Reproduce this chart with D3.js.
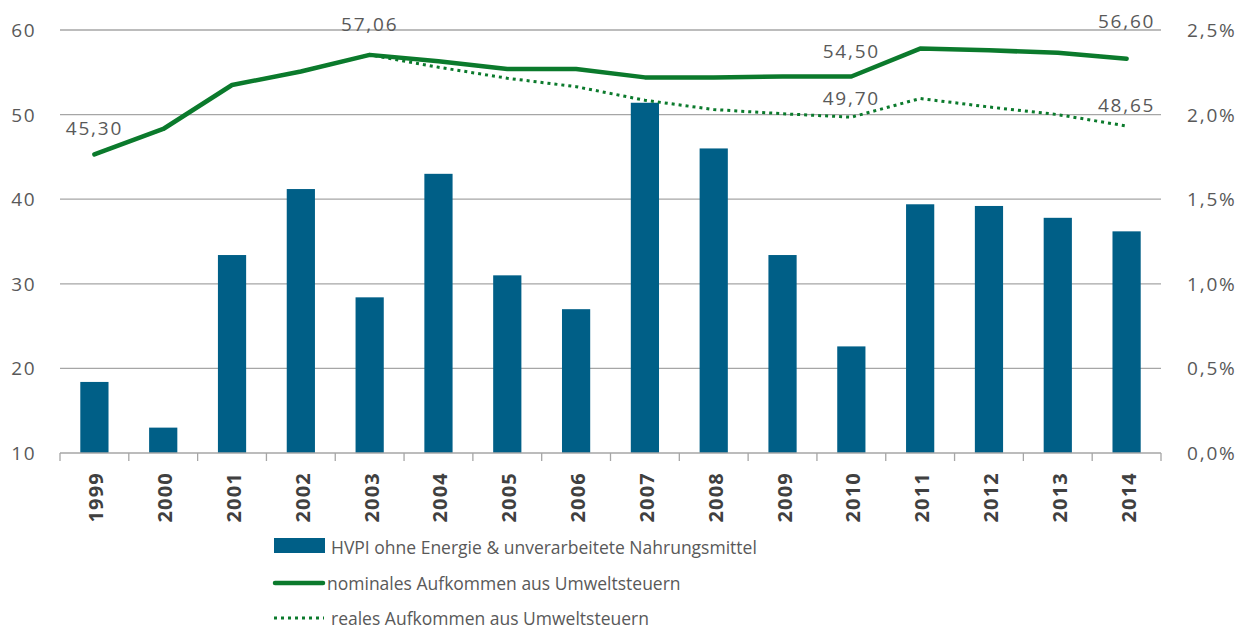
<!DOCTYPE html>
<html>
<head>
<meta charset="utf-8">
<script src="https://cdn.jsdelivr.net/npm/d3@7"></script>
<style>
  body { margin: 0; background: #fff; }
  svg text { font-family: "Open Sans", "DejaVu Sans", sans-serif; }
</style>
</head>
<body>
<svg id="chart" width="1247" height="630"></svg>
<script>
// data
var years = ["1999","2000","2001","2002","2003","2004","2005","2006","2007","2008","2009","2010","2011","2012","2013","2014"];
var hvpi = [0.42, 0.15, 1.17, 1.56, 0.92, 1.65, 1.05, 0.85, 2.07, 1.80, 1.17, 0.63, 1.47, 1.46, 1.39, 1.31];
var nominal = [45.30, 48.3, 53.5, 55.1, 57.06, 56.3, 55.4, 55.4, 54.4, 54.4, 54.5, 54.50, 57.8, 57.6, 57.3, 56.60];
var real = [45.30, 48.3, 53.5, 55.1, 57.06, 55.6, 54.3, 53.3, 51.7, 50.6, 50.1, 49.70, 51.9, 50.9, 50.0, 48.65];
var leftTicks = [10, 20, 30, 40, 50, 60];
var rightTicks = [0, 0.5, 1.0, 1.5, 2.0, 2.5];
var legendLabels = ["HVPI ohne Energie & unverarbeitete Nahrungsmittel", "nominales Aufkommen aus Umweltsteuern", "reales Aufkommen aus Umweltsteuern"];
// value labels: [year, value, series]
var valueLabels = [["1999", 45.30, "n"], ["2003", 57.06, "n"], ["2010", 54.50, "n"], ["2014", 56.60, "n"], ["2010", 49.70, "r"], ["2014", 48.65, "r"]];

var svg = d3.select("svg#chart");
var plotLeft = 60, plotRight = 1161, plotTop = 30, plotBottom = 453;

var x = d3.scaleBand().domain(years).range([plotLeft, plotRight]).paddingInner(0.59).paddingOuter(0.295);
var xTicks = d3.scaleBand().domain(years).range([plotLeft, plotRight]);
var yL = d3.scaleLinear().domain([10, 60]).range([plotBottom, plotTop]);
var yR = d3.scaleLinear().domain([0, 2.5]).range([plotBottom, plotTop]);

var blue = "#005f87", green = "#0b7a2c", grid = "#a6a6a6", txt = "#595959";
var fmt = function(v) { return v.toFixed(2).replace(".", ","); };

// gridlines
svg.append("g").selectAll("line").data(leftTicks.slice(1)).enter().append("line")
  .attr("x1", plotLeft).attr("x2", plotRight)
  .attr("y1", function(d) { return yL(d); }).attr("y2", function(d) { return yL(d); })
  .attr("stroke", grid).attr("stroke-width", 1.3);

// bars
svg.append("g").selectAll("rect").data(years).enter().append("rect")
  .attr("x", function(d) { return x(d); })
  .attr("width", x.bandwidth())
  .attr("y", function(d, i) { return yR(hvpi[i]); })
  .attr("height", function(d, i) { return plotBottom - yR(hvpi[i]); })
  .attr("fill", blue);

// x axis
var xAxis = svg.append("g").attr("transform", "translate(0," + plotBottom + ")");
xAxis.append("line").attr("x1", plotLeft).attr("x2", plotRight).attr("stroke", grid).attr("stroke-width", 1.3);
xAxis.selectAll("line.tick").data(years.concat(["end"])).enter().append("line")
  .attr("class", "tick")
  .attr("x1", function(d) { return d === "end" ? plotRight : xTicks(d); })
  .attr("x2", function(d) { return d === "end" ? plotRight : xTicks(d); })
  .attr("y1", 0).attr("y2", 8).attr("stroke", grid).attr("stroke-width", 1.3);
xAxis.selectAll("text").data(years).enter().append("text")
  .attr("transform", function(d) { return "translate(" + (x(d) + x.bandwidth() / 2 + 9) + ",19) rotate(-90)"; })
  .attr("text-anchor", "end")
  .attr("font-size", 20).attr("font-weight", "bold").attr("letter-spacing", 1.2).attr("fill", "#404040")
  .text(function(d) { return d; });

// left axis labels
svg.append("g").selectAll("text").data(leftTicks).enter().append("text")
  .attr("x", 36).attr("y", function(d) { return yL(d) + 7; })
  .attr("text-anchor", "end").attr("font-size", 19).attr("letter-spacing", 1.5).attr("fill", txt)
  .text(function(d) { return d; });

// right axis labels
svg.append("g").selectAll("text").data(rightTicks).enter().append("text")
  .attr("x", 1187).attr("y", function(d) { return yR(d) + 7; })
  .attr("font-size", 19).attr("letter-spacing", 1.8).attr("fill", txt)
  .text(function(d) { return d.toFixed(1).replace(".", ",") + "%"; });

// lines
var cx = function(d, i) { return x(years[i]) + x.bandwidth() / 2; };
var line = d3.line().x(cx).y(function(d) { return yL(d); });

svg.append("path").datum(real).attr("d", line)
  .attr("fill", "none").attr("stroke", green).attr("stroke-width", 3)
  .attr("stroke-dasharray", "3,4");
svg.append("path").datum(nominal).attr("d", line)
  .attr("fill", "none").attr("stroke", green).attr("stroke-width", 4.5)
  .attr("stroke-linejoin", "round").attr("stroke-linecap", "round");

// value labels
svg.append("g").selectAll("text").data(valueLabels).enter().append("text")
  .attr("x", function(d) { return x(d[0]) + x.bandwidth() / 2; })
  .attr("y", function(d) {
    var off = { "1999": 19, "2003": 24, "2010": d[2] === "n" ? 19 : 12, "2014": d[2] === "n" ? 31 : 14 };
    return yL(d[1]) - off[d[0]];
  })
  .attr("text-anchor", "middle").attr("font-size", 19).attr("letter-spacing", 1.8).attr("fill", txt)
  .text(function(d) { return fmt(d[1]); });

// legend
var lg = svg.append("g").attr("transform", "translate(274,0)");
lg.append("rect").attr("x", 0).attr("y", 538).attr("width", 51).attr("height", 15).attr("fill", blue);
lg.append("line").attr("x1", 1).attr("x2", 49).attr("y1", 583).attr("y2", 583)
  .attr("stroke", green).attr("stroke-width", 4.5).attr("stroke-linecap", "round");
lg.append("line").attr("x1", 0).attr("x2", 50).attr("y1", 618).attr("y2", 618)
  .attr("stroke", green).attr("stroke-width", 3).attr("stroke-dasharray", "3,4");
lg.selectAll("text").data(legendLabels).enter().append("text")
  .attr("x", function(d, i) { return i === 1 ? 53 : 57; })
  .attr("y", function(d, i) { return [554, 590, 625][i]; })
  .attr("font-size", 17.5).attr("fill", txt)
  .text(function(d) { return d; });
</script>
</body>
</html>
